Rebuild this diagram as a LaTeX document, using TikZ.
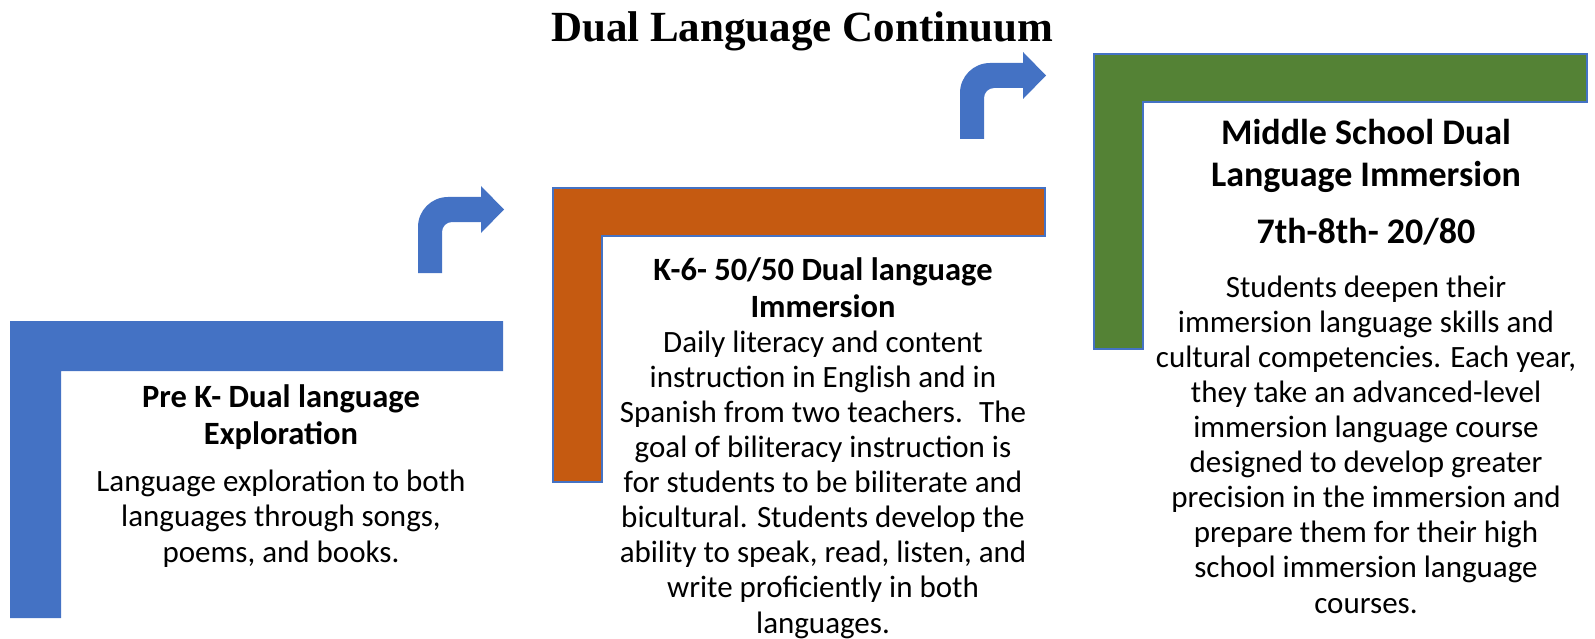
\documentclass[tikz,border=0pt]{standalone}
\usepackage{fontspec}
\setmainfont{Carlito}
\newfontfamily\titlefont{Liberation Serif}

\definecolor{stepblue}{HTML}{4472C4}
\definecolor{steporange}{HTML}{C55A11}
\definecolor{stepgreen}{HTML}{548235}

\tikzset{
  heading/.style={anchor=base, inner sep=0pt, align=center,
    font=\bfseries\fontsize{32.5}{37}\selectfont},
  bigheading/.style={heading, font=\bfseries\fontsize{36}{43}\selectfont},
  bodytext/.style={anchor=base, inner sep=0pt, align=center,
    font=\fontsize{31}{35.1}\selectfont},
}

\begin{document}
\begin{tikzpicture}[x=1pt,y=-1pt]
  \useasboundingbox (0,0) rectangle (1595,639);

  \node[anchor=base, inner sep=0pt, font=\titlefont\bfseries\fontsize{43}{50}\selectfont]
    (title) at (802,42) {Dual Language Continuum};

  % the three steps
  \fill[stepblue] (10,321) -- (503,321) -- (503,371) -- (61,371) -- (61,618) -- (10,618) -- cycle;
  \filldraw[fill=steporange, draw=stepblue, line width=1.2pt]
    (553,188) -- (1045,188) -- (1045,236) -- (602,236) -- (602,482) -- (553,482) -- cycle;
  \filldraw[fill=stepgreen, draw=stepblue, line width=1.2pt]
    (1094,54) -- (1587,54) -- (1587,102) -- (1143,102) -- (1143,349) -- (1094,349) -- cycle;

  % bent arrows between the steps
  \foreach \dx/\dy in {0/0, 542/-134} {
    \begin{scope}[shift={(\dx,\dy)}]
      \fill[stepblue] (418,273) -- (418,227) .. controls (418,210.4) and (431.4,197) .. (448,197)
        -- (481,197) -- (481,186) -- (504,209.5) -- (481,233) -- (481,222) -- (452,222)
        .. controls (446.5,222) and (442,226.5) .. (442,232) -- (442,273) -- cycle;
    \end{scope}
  }

  % texts (base = baseline of the last line)
  \node[heading] (preK) at (281,444) {Pre K- Dual language\\Exploration};
  \node[bodytext] (preKText) at (281,562) {Language exploration to both\\languages through songs,\\poems, and books.};

  \node[heading] (kSix) at (823,317) {K-6- 50/50 Dual language\\Immersion};
  \node[bodytext] (kSixText) at (823,633) {Daily literacy and content\\instruction in English and in\\Spanish from two teachers.~ The\\goal of biliteracy instruction is\\for students to be biliterate and\\bicultural. Students develop the\\ability to speak, read, listen, and\\write proficiently in both\\languages.};

  \node[bigheading] (middle) at (1366,187) {Middle School Dual\\Language Immersion};
  \node[bigheading] (grades) at (1366,243) {7th-8th- 20/80};
  \node[bodytext] (middleText) at (1366,613) {Students deepen their\\immersion language skills and\\cultural competencies. Each year,\\they take an advanced-level\\immersion language course\\designed to develop greater\\precision in the immersion and\\prepare them for their high\\school immersion language\\courses.};
\end{tikzpicture}
\end{document}
